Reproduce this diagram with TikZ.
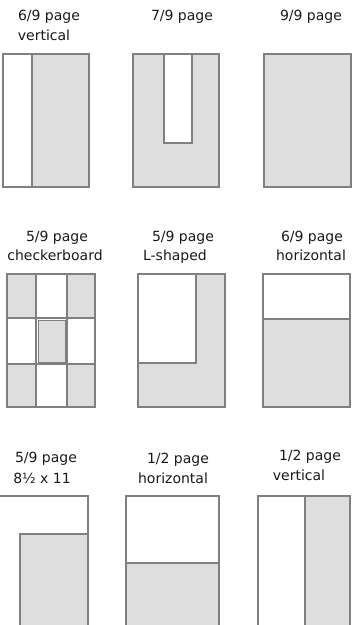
\documentclass[tikz,border=0pt]{standalone}
\usepackage{fontspec}
\setmainfont{DejaVu Sans}
\definecolor{pagegray}{HTML}{808080}
\definecolor{fillgray}{HTML}{DEDEDE}

\begin{document}
\begin{tikzpicture}[
  x=1pt, y=-1pt,
  font=\fontsize{14}{16}\selectfont,
  page/.style={draw=pagegray, line width=1.1pt, fill=white},
  shaded/.style={draw=pagegray, line width=1.1pt, fill=fillgray},
  lbl/.style={inner sep=0pt, anchor=base, text=black!90}
]
\useasboundingbox (0,0) rectangle (362,625);
\clip (0,0) rectangle (362,625);

% row 1
\node[lbl] (sixv1) at (49,20) {6/9 page};
\node[lbl] (sixv2) at (44,40) {vertical};
\node[lbl] (seven) at (182,20) {7/9 page};
\node[lbl] (nine) at (311,20) {9/9 page};

\draw[page] (3,54) rectangle (32,187);
\draw[shaded] (32,54) rectangle (89,187);

\draw[shaded] (133,54) rectangle (219,187);
\draw[page] (164,54) rectangle (192,143);

\draw[shaded] (264,54) rectangle (351,187);

% row 2
\node[lbl] (check1) at (57,241) {5/9 page};
\node[lbl] (check2) at (55,260) {checkerboard};
\node[lbl] (lshape1) at (183,241) {5/9 page};
\node[lbl] (lshape2) at (175,260) {L-shaped};
\node[lbl] (sixh1) at (312,241) {6/9 page};
\node[lbl] (sixh2) at (311,260) {horizontal};

\draw[page] (7,274) rectangle (95,407);
\foreach \cx/\cy/\dx/\dy in {7/274/36/318, 67/274/95/318, 7/364/36/407, 67/364/95/407}
  \draw[shaded] (\cx,\cy) rectangle (\dx,\dy);
\draw[pagegray, line width=1.1pt] (7,318) -- (95,318) (7,364) -- (95,364)
  (36,274) -- (36,407) (67,274) -- (67,407);
\draw[shaded, line width=0.9pt] (38,320) rectangle (65,362);

\draw[shaded] (138,274) rectangle (225,407);
\draw[page] (138,274) rectangle (196,363);

\draw[shaded] (263,274) rectangle (350,407);
\draw[page] (263,274) rectangle (350,319);

% row 3
\node[lbl] (letter1) at (46,462) {5/9 page};
\node[lbl] (letter2) at (42,483) {8½ x 11};
\node[lbl] (halfh1) at (178,463) {1/2 page};
\node[lbl] (halfh2) at (173,483) {horizontal};
\node[lbl] (halfv1) at (310,460) {1/2 page};
\node[lbl] (halfv2) at (299,480) {vertical};

\draw[page] (-5,496) rectangle (88,640);
\draw[shaded] (20,534) rectangle (88,640);

\draw[page] (126,496) rectangle (219,640);
\draw[shaded] (126,563) rectangle (219,640);

\draw[page] (258,496) rectangle (305,640);
\draw[shaded] (305,496) rectangle (350,640);
\end{tikzpicture}
\end{document}
